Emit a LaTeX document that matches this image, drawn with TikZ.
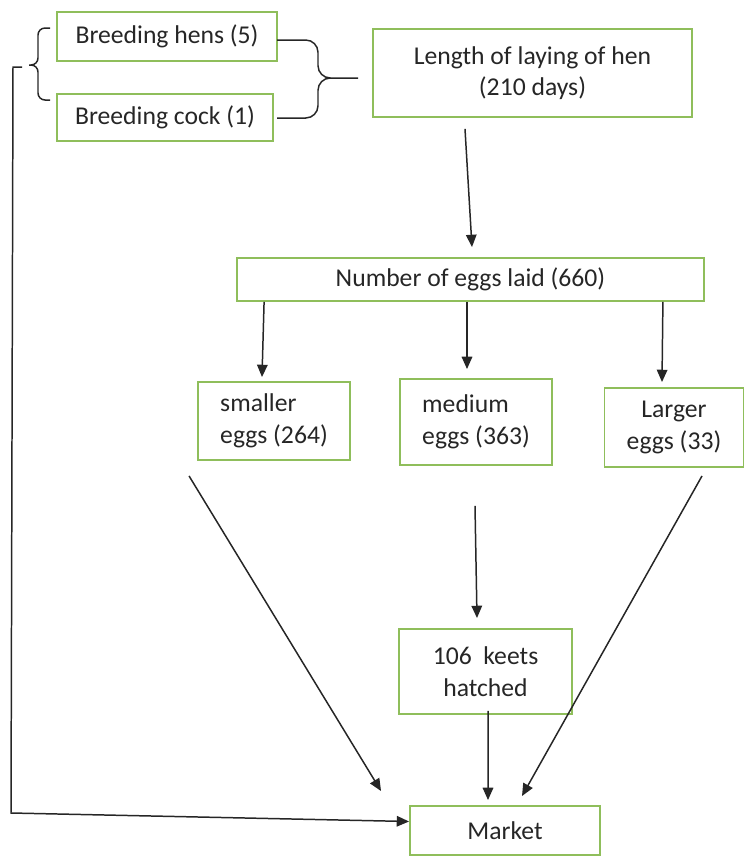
\documentclass[tikz,border=0pt]{standalone}
\usepackage{fontspec}
\setmainfont{Carlito}
\usepackage{tikz}
\usetikzlibrary{positioning, arrows.meta}
\definecolor{eggGreen}{HTML}{8FBE5B}
\definecolor{inkDark}{HTML}{262626}

\begin{document}
\begin{tikzpicture}[x=0.02cm, y=-0.02cm, font=\fontsize{14.6}{18}\selectfont,
  greenbox/.style={draw=eggGreen, line width=1.1pt, text=inkDark, inner sep=2pt},
  flow/.style={draw=inkDark, line width=0.85pt, -{Triangle[length=7pt, width=6pt]}},
  bracket/.style={draw=inkDark, line width=0.85pt, rounded corners=4pt}]
  \useasboundingbox (0,0) rectangle (747,856);
  % breeding stock
  \node[greenbox, minimum width=4.4cm, minimum height=0.98cm] (hens) at (167,36.5) {Breeding hens (5)};
  \node[greenbox, minimum width=4.32cm, minimum height=0.94cm] (cock) at (165,117.5) {Breeding cock (1)};
  \node[greenbox, minimum width=6.38cm, minimum height=1.76cm, align=center] (laying) at (532.5,73) {Length of laying of hen\\(210 days)};
  \draw[bracket] (50,28) -- (38,28) -- (38,65) -- (29,65) (50,100) -- (38,100) -- (38,65) -- (29,65);
  \draw[bracket, rounded corners=7pt] (277,40) -- (318,40) -- (318,78) -- (358,78) (277,118) -- (318,118) -- (318,78) -- (358,78);
  % eggs
  \node[greenbox, minimum width=9.34cm, minimum height=0.86cm] (eggs) at (470.5,279.5) {Number of eggs laid (660)};
  \node[greenbox, minimum width=3.04cm, minimum height=1.56cm, align=left] (small) at (274,421) {smaller\\eggs (264)};
  \node[greenbox, minimum width=3.04cm, minimum height=1.72cm, align=left] (medium) at (476,422) {medium\\eggs (363)};
  \node[greenbox, minimum width=2.78cm, minimum height=1.58cm, align=center] (large) at (674,427.5) {Larger\\eggs (33)};
  \node[greenbox, minimum width=3.46cm, minimum height=1.7cm, align=center] (keets) at (485.5,671.5) {106 \ keets\\hatched};
  \node[greenbox, minimum width=3.8cm, minimum height=0.98cm] (market) at (505,830.5) {Market};
  % arrows
  \draw[flow] ([shift={(-67.5,11)}]laying.south) -- ([shift={(1.5,-10)}]eggs.north);
  \draw[flow] ([shift={(28,0)}]eggs.south west) -- ([shift={(-12,-4)}]small.north);
  \draw[flow] ([shift={(-3.5,0)}]eggs.south) -- ([shift={(-9,-9)}]medium.north);
  \draw[flow] ([shift={(-42,0)}]eggs.south east) -- ([shift={(-12,-5)}]large.north);
  \draw[flow] ([shift={(-8,15)}]small.south west) -- ([shift={(-28,-14)}]market.north west);
  \draw[flow] ([shift={(-1,40)}]medium.south) -- ([shift={(-8.5,-10)}]keets.north);
  \draw[flow] ([shift={(28,8)}]large.south) -- ([shift={(17,-9)}]market.north);
  \draw[flow] ([shift={(2.5,-4)}]keets.south) -- ([shift={(-17,-5)}]market.north);
  \draw[flow] (22,67) -- (13,67) -- (11,813) -- ([shift={(0,-9)}]market.west);
\end{tikzpicture}
\end{document}
